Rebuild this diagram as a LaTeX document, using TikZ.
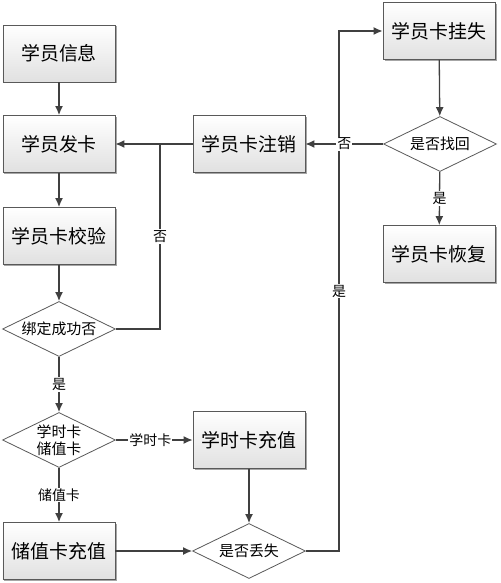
\documentclass[tikz,border=0pt]{standalone}
\usepackage{fontspec}
\setmainfont{Noto Sans CJK SC}
\usepackage{xcolor}
\usepackage{tikz}
\usetikzlibrary{shapes.geometric,shadows,positioning,calc,arrows.meta}

\tikzset{
	box/.style={draw=black!65,line width=0.8bp,top color=white,bottom color=black!12,
		minimum width=112bp,minimum height=57bp,inner sep=0pt,font=\fontsize{19}{21}\selectfont,
		drop shadow={shadow xshift=1.5bp,shadow yshift=-1.5bp,fill=black!35,opacity=1}},
	choice/.style={diamond,aspect=2,draw=black!65,line width=0.8bp,fill=white,
		minimum width=113bp,minimum height=55bp,inner sep=0pt,align=center,font=\fontsize{15}{17}\selectfont},
	line/.style={line width=1.3bp,draw=black!75},
	arr/.style={line,-{Latex[length=9bp,width=8bp]}},
	lab/.style={fill=white,inner sep=1bp,font=\fontsize{14}{16}\selectfont}
}

\begin{document}
\begin{tikzpicture}[x=1bp,y=-1bp]
		\useasboundingbox (0,0) rectangle (501,583);
		% left column
		\node[box] (info) at (59,53.5) {学员信息};
		\node[box] (issue) at (59,144) {学员发卡};
		\node[box] (check) at (59,236) {学员卡校验};
		\node[choice] (bind) at (59,329) {绑定成功否};
		\node[choice] (kind) at (59,440) {学时卡\\储值卡};
		\node[box] (store) at (59,551) {储值卡充值};
		% middle column
		\node[box] (cancel) at (249,144) {学员卡注销};
		\node[box] (hours) at (249,440) {学时卡充值};
		\node[choice] (lost) at (249,551) {是否丢失};
		% right column
		\node[box] (report) at (439,31) {学员卡挂失};
		\node[choice] (found) at (440,144) {是否找回};
		\node[box] (restore) at (439,254) {学员卡恢复};
		\coordinate (join) at (160,144);
		\coordinate (upline) at (339,0);
		% connectors
		\draw[arr] (info) -- (issue);
		\draw[arr] (cancel) -- (issue);
		\draw[arr] (issue) -- (check);
		\draw[arr] (check) -- (bind);
		\draw[line] (bind.east) -| node[lab,pos=0.75] {否} (join);
		\draw[arr] (bind) -- node[lab] {是} (kind);
		\draw[arr] (kind.east) -- node[lab,pos=0.45] {学时卡} (hours.west);
		\draw[arr] (kind.south) -- node[lab,pos=0.5] {储值卡} (store.north);
		\draw[arr] (store.east) -- (lost.west);
		\draw[arr] (hours) -- (lost);
		\draw[arr] (lost.east) -- (lost.east -| upline) |- node[lab,pos=0.25] {是} (report.west);
		\draw[arr] (report) -- (found);
		\draw[arr] (found.west) -- node[lab] {否} (cancel.east);
		\draw[arr] (found) -- node[lab] {是} (restore);
	\end{tikzpicture}
\end{document}
